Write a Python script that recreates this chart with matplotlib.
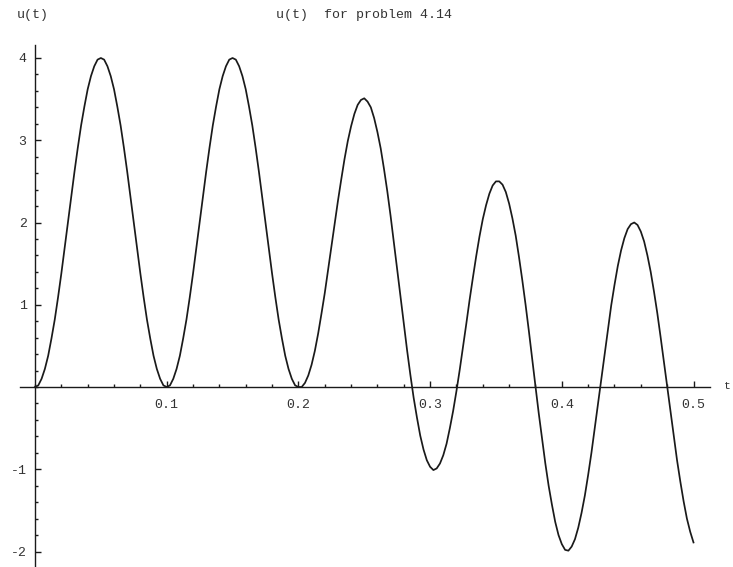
import numpy as np
import matplotlib
matplotlib.use("Agg")
import matplotlib.pyplot as plt
from matplotlib.ticker import MultipleLocator, FixedLocator

# u(t) sampled every 0.0025 s from 0 to 0.5
t = np.arange(201) * 0.0025
u_first = [  # 0 <= t <= 0.2
    0.00, 0.02, 0.10, 0.22, 0.38, 0.59, 0.82, 1.09, 1.38, 1.69,
    2.00, 2.31, 2.62, 2.91, 3.18, 3.41, 3.62, 3.78, 3.90, 3.98,
    4.00, 3.98, 3.90, 3.78, 3.62, 3.41, 3.18, 2.91, 2.62, 2.31,
    2.00, 1.69, 1.38, 1.09, 0.82, 0.59, 0.38, 0.22, 0.10, 0.02,
    0.00, 0.02, 0.10, 0.22, 0.38, 0.59, 0.82, 1.09, 1.38, 1.69,
    2.00, 2.31, 2.62, 2.91, 3.18, 3.41, 3.62, 3.78, 3.90, 3.98,
    4.00, 3.98, 3.90, 3.78, 3.62, 3.41, 3.18, 2.91, 2.62, 2.31,
    2.00, 1.69, 1.38, 1.09, 0.82, 0.59, 0.38, 0.22, 0.10, 0.02,
    0.00,
]
u_second = [  # 0.2 < t <= 0.5
    0.00, 0.05, 0.14, 0.27, 0.44, 0.65, 0.89, 1.14, 1.42, 1.70,
    1.98, 2.26, 2.52, 2.77, 2.99, 3.17, 3.32, 3.43, 3.49, 3.51,
    3.47, 3.40, 3.27, 3.10, 2.90, 2.65, 2.38, 2.08, 1.76, 1.43,
    1.10, 0.77, 0.45, 0.15, -0.13, -0.37, -0.59, -0.76, -0.89, -0.97,
    -1.01, -0.99, -0.93, -0.83, -0.69, -0.50, -0.29, -0.05, 0.21, 0.49,
    0.77, 1.06, 1.33, 1.59, 1.83, 2.04, 2.21, 2.35, 2.45, 2.50,
    2.50, 2.46, 2.37, 2.23, 2.05, 1.84, 1.58, 1.30, 1.00, 0.68,
    0.34, 0.01, -0.32, -0.63, -0.93, -1.20, -1.43, -1.64, -1.80, -1.91,
    -1.98, -1.99, -1.94, -1.85, -1.71, -1.53, -1.32, -1.07, -0.80, -0.50,
    -0.20, 0.11, 0.41, 0.71, 0.99, 1.24, 1.47, 1.66, 1.81, 1.92,
    1.98, 2.00, 1.97, 1.89, 1.77, 1.60, 1.40, 1.16, 0.90, 0.61,
    0.31, 0.00, -0.30, -0.60, -0.89, -1.15, -1.39, -1.60, -1.76, -1.89,
]
u = u_first + u_second

xticks = [0.1, 0.2, 0.3, 0.4, 0.5]
xlabels = ["0.1", "0.2", "0.3", "0.4", "0.5"]
yticks = [-2, -1, 1, 2, 3, 4]
ylabels = ["-2", "-1", "1", "2", "3", "4"]

plt.rcParams["axes.unicode_minus"] = False
mono = "Liberation Mono"
ink = "#1a1a1a"

fig = plt.figure(figsize=(7.33, 5.67), dpi=100)
ax = fig.add_axes([20 / 733, 0.0, 690 / 733, 522 / 567])

ax.plot(t, u, color=ink, lw=1.25, solid_joinstyle="round")

ax.set_xlim(-15 / 1317, 675 / 1317)
ax.set_ylim(-180 / 82.25, 342 / 82.25)

# axes crossing at the origin
for s in ["top", "right"]:
    ax.spines[s].set_visible(False)
ax.spines["left"].set_position(("data", 0))
ax.spines["bottom"].set_position(("data", 0))
for s in ["left", "bottom"]:
    ax.spines[s].set_color(ink)
    ax.spines[s].set_linewidth(1.0)

ax.xaxis.set_major_locator(FixedLocator(xticks))
ax.set_xticklabels(xlabels)
ax.xaxis.set_minor_locator(MultipleLocator(0.02))
ax.yaxis.set_major_locator(FixedLocator(yticks))
ax.set_yticklabels(ylabels)
ax.yaxis.set_minor_locator(MultipleLocator(0.2))

ax.tick_params(which="both", direction="in", color=ink, width=1.0)
ax.tick_params(which="major", length=4.5)
ax.tick_params(which="minor", length=2.5)
ax.tick_params(axis="x", which="major", pad=9)
ax.tick_params(axis="y", which="major", pad=6)
for lab in ax.get_xticklabels() + ax.get_yticklabels():
    lab.set_fontfamily(mono)
    lab.set_fontsize(9.5)
    lab.set_color("#333333")

fig.text(364 / 733, 1 - 15 / 567, "u(t)  for problem 4.14", family=mono,
         fontsize=9.5, color="#333333", ha="center", va="center")
fig.text(17 / 733, 1 - 15 / 567, "u(t)", family=mono, fontsize=9.5,
         color="#333333", ha="left", va="center")
fig.text(731 / 733, 1 - 386 / 567, "t", family=mono, fontsize=8,
         color="#333333", ha="right", va="center")

fig.savefig("out.png", dpi=100)
